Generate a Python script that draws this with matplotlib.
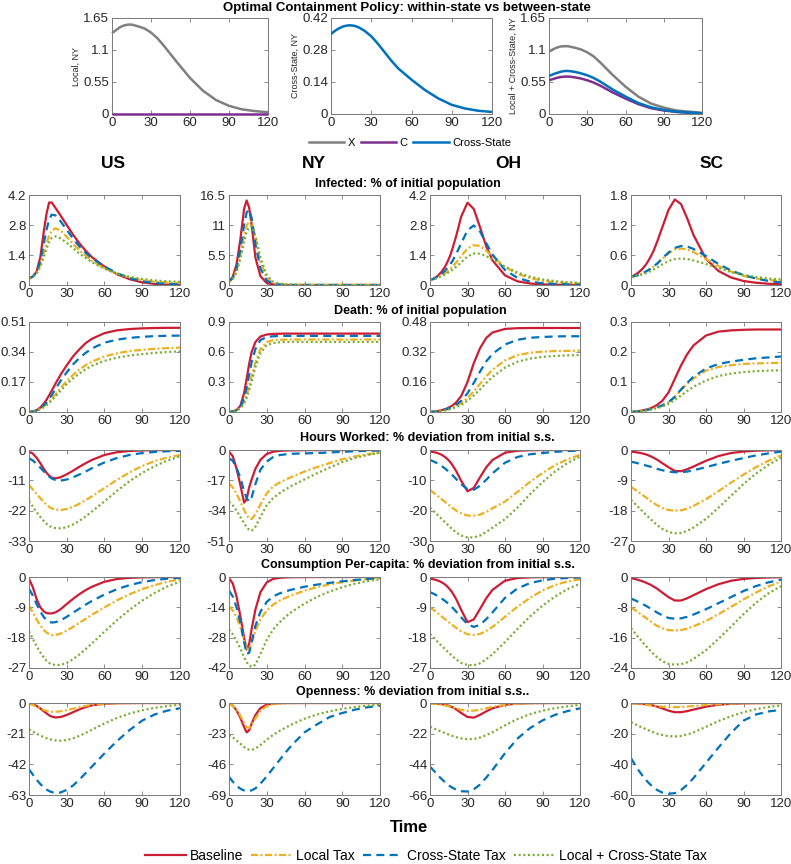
import matplotlib
matplotlib.use('Agg')
import matplotlib.pyplot as plt
from matplotlib.lines import Line2D

plt.rcParams['font.family'] = ['Liberation Sans', 'DejaVu Sans']

# ---------------- data ----------------
T = [0, 3, 6, 9, 12, 14, 16, 18, 21, 25, 30, 35, 40, 45, 50, 60, 70, 80, 90, 100, 110, 120]
XTICKS = [0, 30, 60, 90, 120]

STATES = ['US', 'NY', 'OH', 'SC']
SERIES = ['Baseline', 'Local Tax', 'Cross-State Tax', 'Local + Cross-State Tax']
ROW_TITLES = ['Infected: % of initial population',
              'Death: % of initial population',
              'Hours Worked: % deviation from initial s.s.',
              'Consumption Per-capita: % deviation from initial s.s.',
              'Openness: % deviation from initial s.s..']

# y-axis limits (one per state) for each row
INF_LIM = [4.2, 16.5, 4.2, 1.8]
DEATH_LIM = [0.51, 0.9, 0.48, 0.3]
HOURS_LIM = [-33, -51, -30, -27]
CONS_LIM = [-27, -42, -27, -24]
OPEN_LIM = [-63, -69, -66, -60]

# top row: optimal containment policy in NY
TOP_LABELS = ['Local, NY', 'Cross-State, NY', 'Local + Cross-State, NY']
TOP_LIM = [1.65, 0.42, 1.65]
TOP_LEGEND = ['X', 'C', 'Cross-State']
LOCAL_X = [1.39, 1.44, 1.49, 1.52, 1.535, 1.538, 1.532, 1.52, 1.50, 1.47, 1.40, 1.30, 1.17, 1.03, 0.89, 0.62, 0.40, 0.24, 0.14, 0.08, 0.05, 0.03]
LOCAL_C = [0, 0, 0, 0, 0, 0, 0, 0, 0, 0, 0, 0, 0, 0, 0, 0, 0, 0, 0, 0, 0, 0]
CROSS_CS = [0.350, 0.364, 0.375, 0.383, 0.387, 0.388, 0.387, 0.385, 0.378, 0.364, 0.340, 0.307, 0.270, 0.233, 0.200, 0.150, 0.105, 0.068, 0.040, 0.024, 0.014, 0.009]
BOTH_X = [1.07, 1.11, 1.14, 1.16, 1.165, 1.166, 1.16, 1.15, 1.135, 1.11, 1.06, 0.99, 0.89, 0.78, 0.67, 0.47, 0.30, 0.18, 0.11, 0.06, 0.04, 0.02]
BOTH_C = [0.58, 0.60, 0.62, 0.635, 0.642, 0.643, 0.642, 0.637, 0.627, 0.61, 0.58, 0.54, 0.49, 0.43, 0.37, 0.265, 0.17, 0.10, 0.06, 0.035, 0.02, 0.01]
BOTH_CS = [0.654, 0.68, 0.705, 0.725, 0.738, 0.74, 0.738, 0.732, 0.72, 0.70, 0.665, 0.62, 0.56, 0.49, 0.42, 0.30, 0.19, 0.115, 0.07, 0.04, 0.025, 0.013]

# each panel: [Baseline, Local Tax, Cross-State Tax, Local + Cross-State Tax]
INF_US = [[0.30, 0.40, 0.62, 1.3, 2.6, 3.35, 3.85, 3.85, 3.6, 3.25, 2.8, 2.35, 1.95, 1.6, 1.3, 0.86, 0.5, 0.27, 0.12, 0.05, 0.02, 0.01],
          [0.30, 0.38, 0.55, 0.95, 1.55, 1.95, 2.3, 2.52, 2.65, 2.55, 2.25, 1.92, 1.62, 1.36, 1.13, 0.78, 0.52, 0.34, 0.22, 0.15, 0.11, 0.10],
          [0.30, 0.39, 0.58, 1.1, 2.0, 2.6, 3.05, 3.28, 3.25, 2.98, 2.58, 2.17, 1.8, 1.5, 1.25, 0.86, 0.55, 0.32, 0.17, 0.09, 0.05, 0.03],
          [0.30, 0.37, 0.52, 0.85, 1.35, 1.7, 2.0, 2.2, 2.27, 2.18, 1.97, 1.72, 1.47, 1.26, 1.06, 0.76, 0.53, 0.38, 0.28, 0.21, 0.17, 0.15]]
INF_NY = [[0.6, 1.5, 3.8, 8.3, 14.0, 15.5, 14.2, 11.0, 5.0, 1.6, 0.35, 0.1, 0.03, 0.01, 0, 0, 0, 0, 0, 0, 0, 0],
          [0.6, 1.2, 2.6, 5.5, 9.0, 10.8, 11.7, 11.6, 8.8, 4.2, 1.3, 0.4, 0.15, 0.06, 0.03, 0.02, 0.01, 0.01, 0.01, 0.01, 0.01, 0.01],
          [0.6, 1.3, 3.0, 6.5, 11.0, 13.3, 13.8, 12.3, 7.5, 3.0, 0.8, 0.25, 0.08, 0.03, 0.01, 0, 0, 0, 0, 0, 0, 0],
          [0.6, 1.1, 2.3, 4.8, 8.0, 9.7, 10.6, 10.8, 9.0, 5.0, 1.8, 0.6, 0.22, 0.09, 0.05, 0.03, 0.02, 0.02, 0.02, 0.02, 0.02, 0.02]]
INF_OH = [[0.23, 0.3, 0.42, 0.6, 0.85, 1.08, 1.35, 1.7, 2.3, 3.2, 3.84, 3.55, 2.7, 1.8, 1.15, 0.45, 0.17, 0.07, 0.03, 0.015, 0.01, 0.005],
          [0.23, 0.28, 0.35, 0.44, 0.55, 0.64, 0.74, 0.85, 1.05, 1.35, 1.7, 1.86, 1.82, 1.6, 1.32, 0.85, 0.52, 0.32, 0.2, 0.13, 0.09, 0.06],
          [0.23, 0.29, 0.38, 0.5, 0.67, 0.8, 0.95, 1.12, 1.45, 1.95, 2.55, 2.78, 2.5, 1.95, 1.42, 0.7, 0.33, 0.16, 0.08, 0.05, 0.03, 0.02],
          [0.23, 0.27, 0.33, 0.4, 0.49, 0.56, 0.63, 0.71, 0.85, 1.06, 1.33, 1.47, 1.46, 1.35, 1.18, 0.85, 0.58, 0.39, 0.26, 0.18, 0.13, 0.1]]
INF_SC = [[0.167, 0.2, 0.25, 0.32, 0.41, 0.49, 0.58, 0.68, 0.87, 1.15, 1.5, 1.71, 1.62, 1.33, 1.0, 0.52, 0.28, 0.15, 0.08, 0.045, 0.025, 0.015],
          [0.167, 0.18, 0.2, 0.23, 0.27, 0.3, 0.33, 0.37, 0.43, 0.52, 0.63, 0.71, 0.73, 0.71, 0.66, 0.52, 0.38, 0.27, 0.18, 0.13, 0.1, 0.08],
          [0.167, 0.18, 0.2, 0.23, 0.27, 0.3, 0.33, 0.37, 0.43, 0.53, 0.65, 0.74, 0.78, 0.77, 0.72, 0.58, 0.42, 0.29, 0.2, 0.13, 0.08, 0.05],
          [0.167, 0.18, 0.19, 0.21, 0.24, 0.26, 0.28, 0.31, 0.35, 0.41, 0.48, 0.52, 0.53, 0.52, 0.49, 0.42, 0.34, 0.26, 0.2, 0.16, 0.13, 0.11]]

DEATH_US = [[0, 0.003, 0.01, 0.025, 0.05, 0.07, 0.095, 0.12, 0.16, 0.21, 0.265, 0.315, 0.355, 0.39, 0.415, 0.447, 0.463, 0.47, 0.474, 0.476, 0.477, 0.477],
            [0, 0.003, 0.008, 0.018, 0.033, 0.045, 0.06, 0.075, 0.1, 0.135, 0.175, 0.21, 0.24, 0.265, 0.285, 0.315, 0.333, 0.345, 0.353, 0.358, 0.362, 0.365],
            [0, 0.003, 0.009, 0.02, 0.04, 0.056, 0.075, 0.095, 0.13, 0.175, 0.225, 0.27, 0.305, 0.335, 0.36, 0.393, 0.41, 0.42, 0.426, 0.43, 0.432, 0.433],
            [0, 0.003, 0.007, 0.015, 0.028, 0.038, 0.05, 0.065, 0.088, 0.12, 0.158, 0.19, 0.218, 0.242, 0.262, 0.29, 0.308, 0.32, 0.328, 0.335, 0.34, 0.344]]
DEATH_NY = [[0, 0.005, 0.02, 0.06, 0.19, 0.33, 0.48, 0.6, 0.7, 0.755, 0.775, 0.781, 0.783, 0.784, 0.784, 0.784, 0.784, 0.784, 0.784, 0.784, 0.784, 0.784],
            [0, 0.004, 0.015, 0.04, 0.1, 0.17, 0.26, 0.36, 0.5, 0.63, 0.7, 0.718, 0.722, 0.724, 0.725, 0.725, 0.725, 0.725, 0.725, 0.725, 0.725, 0.725],
            [0, 0.005, 0.018, 0.05, 0.14, 0.24, 0.37, 0.5, 0.63, 0.72, 0.75, 0.757, 0.76, 0.761, 0.761, 0.761, 0.761, 0.761, 0.761, 0.761, 0.761, 0.761],
            [0, 0.004, 0.013, 0.035, 0.085, 0.14, 0.22, 0.31, 0.45, 0.59, 0.67, 0.69, 0.697, 0.7, 0.701, 0.701, 0.701, 0.701, 0.701, 0.701, 0.701, 0.701]]
DEATH_OH = [[0, 0.002, 0.005, 0.009, 0.015, 0.02, 0.027, 0.035, 0.052, 0.085, 0.16, 0.26, 0.34, 0.395, 0.424, 0.443, 0.447, 0.448, 0.448, 0.448, 0.448, 0.448],
            [0, 0.002, 0.004, 0.007, 0.011, 0.014, 0.018, 0.023, 0.032, 0.047, 0.075, 0.11, 0.15, 0.19, 0.225, 0.275, 0.303, 0.316, 0.322, 0.325, 0.326, 0.327],
            [0, 0.002, 0.004, 0.008, 0.013, 0.017, 0.022, 0.028, 0.04, 0.06, 0.1, 0.155, 0.215, 0.27, 0.31, 0.36, 0.385, 0.396, 0.4, 0.403, 0.404, 0.404],
            [0, 0.002, 0.003, 0.006, 0.009, 0.012, 0.015, 0.019, 0.026, 0.038, 0.06, 0.088, 0.12, 0.155, 0.187, 0.237, 0.268, 0.285, 0.294, 0.299, 0.302, 0.304]]
DEATH_SC = [[0, 0.001, 0.003, 0.005, 0.008, 0.01, 0.013, 0.017, 0.024, 0.037, 0.065, 0.11, 0.155, 0.193, 0.222, 0.255, 0.268, 0.272, 0.274, 0.275, 0.275, 0.275],
            [0, 0.001, 0.002, 0.004, 0.006, 0.008, 0.01, 0.012, 0.016, 0.022, 0.033, 0.05, 0.073, 0.094, 0.112, 0.138, 0.15, 0.156, 0.16, 0.162, 0.163, 0.164],
            [0, 0.001, 0.002, 0.004, 0.006, 0.008, 0.01, 0.012, 0.016, 0.022, 0.033, 0.05, 0.075, 0.097, 0.118, 0.145, 0.16, 0.168, 0.174, 0.179, 0.182, 0.185],
            [0, 0.001, 0.002, 0.003, 0.005, 0.006, 0.008, 0.01, 0.013, 0.018, 0.027, 0.04, 0.055, 0.07, 0.084, 0.105, 0.12, 0.128, 0.133, 0.136, 0.138, 0.139]]

HOURS_US = [[-0.6, -1.3, -2.8, -4.8, -7.0, -8.3, -9.3, -10.0, -10.3, -9.9, -8.8, -7.5, -6.1, -4.8, -3.6, -1.8, -0.8, -0.35, -0.15, -0.07, -0.03, -0.02],
            [-12.7, -14.3, -15.9, -17.5, -19.0, -19.9, -20.6, -21.2, -21.6, -21.8, -21.4, -20.6, -19.5, -18.2, -16.8, -13.8, -10.8, -8.1, -5.8, -4.0, -2.7, -1.8],
            [-3.0, -3.8, -5.0, -6.4, -7.9, -8.8, -9.6, -10.3, -10.9, -11.1, -10.7, -9.9, -8.9, -7.8, -6.6, -4.5, -2.9, -1.8, -1.1, -0.7, -0.45, -0.3],
            [-18.5, -20.5, -22.5, -24.3, -25.9, -26.8, -27.5, -28.0, -28.3, -28.4, -28.0, -27.0, -25.7, -24.1, -22.3, -18.6, -14.8, -11.3, -8.3, -5.8, -3.8, -2.3]]
HOURS_NY = [[-0.9, -3.5, -10.5, -19.5, -29.5, -27.5, -21.0, -16.5, -10.5, -5.5, -2.2, -1.0, -0.5, -0.3, -0.2, -0.1, -0.05, -0.03, -0.02, -0.01, -0.01, -0.01],
            [-18.7, -21.0, -24.5, -29.0, -33.5, -36.5, -38.3, -38.7, -36.0, -30.5, -24.3, -20.5, -18.3, -16.6, -15.0, -12.1, -9.6, -7.3, -5.2, -3.6, -2.4, -1.5],
            [-4.7, -6.0, -10.0, -15.5, -23.0, -27.0, -29.0, -26.5, -19.0, -11.0, -6.5, -4.0, -2.9, -2.4, -2.1, -1.9, -1.7, -1.4, -1.0, -0.7, -0.45, -0.3],
            [-29.0, -31.0, -34.0, -37.5, -41.0, -43.2, -44.8, -45.2, -43.0, -37.5, -31.0, -27.0, -24.3, -22.0, -20.0, -16.5, -13.0, -9.8, -6.8, -4.5, -2.8, -1.5]]
HOURS_OH = [[-0.5, -0.7, -1.0, -1.5, -2.3, -3.0, -3.9, -5.0, -7.0, -10.2, -13.6, -12.5, -9.0, -5.7, -3.3, -0.9, -0.25, -0.08, -0.03, -0.01, -0.01, -0.01],
            [-13.2, -14.1, -15.1, -16.1, -17.1, -17.8, -18.4, -19.1, -20.0, -20.9, -21.6, -21.7, -21.3, -20.4, -19.2, -17.0, -13.8, -10.5, -7.6, -5.0, -3.1, -1.6],
            [-3.3, -3.8, -4.4, -5.2, -6.1, -6.8, -7.5, -8.3, -9.6, -11.3, -12.9, -13.1, -11.8, -9.8, -7.7, -4.2, -2.3, -1.4, -1.0, -0.6, -0.35, -0.2],
            [-19.0, -20.2, -21.4, -22.6, -23.8, -24.6, -25.4, -26.2, -27.2, -28.2, -28.8, -28.8, -28.2, -27.0, -25.6, -22.8, -19.0, -14.6, -10.6, -7.1, -4.3, -2.2]]
HOURS_SC = [[-0.5, -0.6, -0.8, -1.0, -1.3, -1.6, -1.9, -2.3, -2.9, -3.9, -5.1, -6.2, -6.3, -5.7, -4.9, -3.2, -1.8, -0.9, -0.45, -0.2, -0.1, -0.05],
            [-10.9, -11.7, -12.5, -13.3, -14.1, -14.6, -15.2, -15.7, -16.4, -17.2, -17.8, -18.0, -17.9, -17.4, -16.6, -14.6, -12.2, -9.7, -7.3, -5.1, -3.2, -1.6],
            [-3.5, -3.7, -4.0, -4.3, -4.6, -4.8, -5.0, -5.3, -5.6, -6.0, -6.4, -6.6, -6.6, -6.4, -6.0, -5.1, -4.1, -3.2, -2.4, -1.6, -1.0, -0.5],
            [-14.8, -15.9, -17.0, -18.1, -19.2, -19.9, -20.6, -21.3, -22.3, -23.4, -24.3, -24.7, -24.6, -24.0, -23.0, -20.4, -17.1, -13.6, -10.1, -7.0, -4.4, -2.3]]

CONS_US = [[-0.5, -3.0, -6.5, -9.0, -10.3, -10.7, -10.8, -10.8, -10.5, -9.6, -8.0, -6.5, -5.1, -3.9, -2.9, -1.4, -0.6, -0.25, -0.1, -0.05, -0.03, -0.02],
           [-8.5, -10.5, -12.6, -14.4, -15.8, -16.5, -16.9, -17.2, -17.2, -16.8, -15.9, -14.8, -13.6, -12.4, -11.2, -9.0, -6.9, -5.1, -3.6, -2.4, -1.4, -0.7],
           [-3.5, -5.5, -8.0, -10.3, -12.0, -12.8, -13.3, -13.5, -13.4, -12.9, -11.8, -10.6, -9.4, -8.2, -7.1, -5.2, -3.6, -2.4, -1.5, -0.9, -0.5, -0.25],
           [-16.1, -18.3, -20.5, -22.4, -24.0, -24.9, -25.5, -25.9, -26.1, -26.1, -25.5, -24.4, -23.0, -21.4, -19.7, -16.2, -12.8, -9.7, -7.0, -4.7, -2.8, -1.4]]
CONS_NY = [[-0.5, -3.0, -9.0, -18.0, -28.0, -33.5, -31.0, -24.0, -15.0, -7.0, -2.5, -0.9, -0.4, -0.2, -0.1, -0.05, -0.02, -0.02, -0.01, -0.01, -0.01, -0.01],
           [-13.5, -15.5, -18.5, -23.0, -29.0, -33.0, -33.5, -30.5, -25.0, -19.5, -15.5, -12.8, -11.0, -9.6, -8.4, -6.3, -4.7, -3.4, -2.4, -1.6, -1.0, -0.5],
           [-6.3, -9.0, -14.0, -21.0, -30.0, -35.5, -35.0, -30.0, -22.5, -16.0, -11.5, -9.0, -7.6, -6.6, -5.8, -4.5, -3.5, -2.7, -2.0, -1.4, -0.9, -0.5],
           [-24.2, -26.5, -29.5, -33.0, -37.0, -39.3, -40.8, -41.5, -40.5, -35.5, -29.0, -24.3, -21.0, -18.3, -16.0, -12.3, -9.2, -6.7, -4.7, -3.1, -1.9, -1.0]]
CONS_OH = [[-0.5, -0.7, -1.0, -1.5, -2.2, -2.9, -3.7, -4.7, -6.6, -9.8, -13.4, -12.6, -9.5, -6.3, -3.8, -1.1, -0.3, -0.1, -0.04, -0.02, -0.01, -0.01],
           [-9.0, -9.8, -10.7, -11.6, -12.5, -13.1, -13.7, -14.3, -15.1, -16.1, -17.0, -17.2, -16.9, -16.0, -14.8, -11.8, -8.8, -6.2, -4.0, -2.4, -1.3, -0.7],
           [-4.5, -5.0, -5.6, -6.3, -7.1, -7.7, -8.4, -9.1, -10.3, -12.0, -14.0, -14.8, -14.2, -12.5, -10.5, -6.2, -3.4, -1.8, -1.0, -0.5, -0.3, -0.15],
           [-16.9, -18.0, -19.2, -20.3, -21.4, -22.1, -22.8, -23.5, -24.5, -25.5, -26.1, -26.2, -25.6, -24.4, -22.9, -19.3, -15.4, -11.7, -8.5, -5.8, -3.6, -2.0]]
CONS_SC = [[-0.3, -0.5, -0.8, -1.1, -1.5, -1.8, -2.1, -2.5, -3.1, -4.1, -5.3, -6.2, -6.2, -5.6, -4.8, -3.2, -1.9, -1.0, -0.5, -0.25, -0.12, -0.06],
           [-8.0, -8.7, -9.4, -10.1, -10.8, -11.3, -11.8, -12.3, -12.9, -13.5, -14.0, -14.1, -14.0, -13.6, -13.0, -11.6, -9.8, -7.9, -5.9, -4.1, -2.5, -1.2],
           [-5.7, -6.1, -6.6, -7.1, -7.6, -8.0, -8.4, -8.8, -9.4, -10.1, -10.8, -11.0, -10.9, -10.5, -9.9, -8.5, -6.9, -5.3, -3.7, -2.4, -1.4, -0.7],
           [-13.5, -14.7, -15.9, -17.1, -18.2, -18.9, -19.6, -20.3, -21.2, -22.2, -22.9, -23.1, -23.0, -22.5, -21.6, -19.3, -16.3, -13.1, -9.8, -6.8, -4.3, -2.4]]

OPEN_US = [[-0.2, -0.8, -2.0, -3.8, -5.8, -7.2, -8.4, -9.3, -9.9, -9.6, -8.2, -6.3, -4.4, -2.8, -1.6, -0.5, -0.15, -0.05, -0.02, -0.01, -0.01, -0.01],
           [-0.5, -1.3, -2.5, -3.8, -4.8, -5.4, -5.8, -6.0, -6.0, -5.7, -4.9, -3.9, -2.9, -2.0, -1.3, -0.5, -0.2, -0.08, -0.03, -0.01, -0.01, -0.01],
           [-45.4, -49.0, -52.5, -55.5, -58.0, -59.3, -60.3, -61.0, -61.5, -61.3, -59.5, -56.5, -52.5, -48.0, -43.5, -34.5, -26.0, -18.5, -12.0, -7.8, -5.2, -3.6],
           [-18.0, -19.6, -21.0, -22.3, -23.5, -24.1, -24.7, -25.1, -25.6, -25.8, -25.4, -24.2, -22.5, -20.5, -18.3, -14.0, -10.2, -7.2, -5.0, -3.3, -2.1, -1.2]]
OPEN_NY = [[-0.3, -2.0, -5.5, -11.0, -18.0, -22.0, -20.5, -15.5, -9.0, -3.8, -1.2, -0.4, -0.15, -0.05, -0.02, -0.01, -0.01, -0.01, -0.01, -0.01, -0.01, -0.01],
           [-0.5, -2.0, -5.0, -9.5, -15.0, -18.0, -18.8, -16.5, -11.5, -6.0, -2.3, -0.9, -0.4, -0.2, -0.1, -0.05, -0.02, -0.01, -0.01, -0.01, -0.01, -0.01],
           [-55.3, -59.0, -62.0, -64.3, -65.6, -66.0, -66.0, -65.5, -64.0, -60.5, -55.0, -49.0, -43.0, -37.0, -31.5, -22.0, -16.0, -10.5, -7.5, -5.0, -3.2, -2.0],
           [-24.0, -25.8, -28.0, -30.5, -33.0, -34.3, -35.0, -35.2, -34.2, -31.5, -27.5, -24.0, -21.0, -18.5, -16.0, -11.8, -8.6, -6.2, -4.4, -3.0, -2.0, -1.3]]
OPEN_OH = [[-0.1, -0.2, -0.4, -0.7, -1.2, -1.7, -2.3, -3.1, -4.6, -7.2, -10.0, -10.5, -8.5, -6.0, -3.8, -1.3, -0.4, -0.1, -0.05, -0.02, -0.01, -0.01],
           [-0.3, -0.5, -0.8, -1.2, -1.7, -2.1, -2.6, -3.1, -3.9, -4.9, -5.6, -5.5, -4.8, -3.8, -2.8, -1.3, -0.5, -0.2, -0.08, -0.03, -0.01, -0.01],
           [-45.7, -48.5, -51.5, -54.3, -56.8, -58.3, -59.7, -60.8, -62.2, -63.3, -63.5, -62.0, -58.5, -53.5, -48.0, -36.0, -25.5, -18.0, -12.5, -8.5, -5.8, -3.8],
           [-17.0, -18.2, -19.4, -20.5, -21.6, -22.3, -23.0, -23.6, -24.5, -25.4, -26.0, -25.8, -24.8, -23.0, -21.0, -16.0, -11.5, -8.0, -5.5, -3.7, -2.4, -1.5]]
OPEN_SC = [[-0.1, -0.2, -0.3, -0.5, -0.8, -1.0, -1.3, -1.7, -2.4, -3.5, -5.0, -6.0, -6.0, -5.3, -4.3, -2.4, -1.1, -0.5, -0.2, -0.1, -0.05, -0.02],
           [-0.3, -0.5, -0.7, -0.9, -1.2, -1.4, -1.6, -1.8, -2.1, -2.4, -2.6, -2.7, -2.6, -2.3, -2.0, -1.3, -0.8, -0.4, -0.2, -0.1, -0.05, -0.02],
           [-36.0, -40.0, -43.8, -47.2, -50.2, -52.0, -53.6, -55.0, -56.8, -58.4, -59.2, -58.8, -56.8, -53.3, -49.0, -39.0, -29.0, -19.5, -11.5, -7.5, -5.5, -4.5],
           [-12.5, -13.7, -14.9, -16.0, -17.1, -17.8, -18.5, -19.1, -20.0, -20.9, -21.6, -21.8, -21.5, -20.5, -19.2, -15.5, -11.8, -8.6, -6.0, -4.0, -2.6, -1.6]]

# ---------------- layout / style ----------------
W, H = 791, 864
fig = plt.figure(figsize=(W / 100, H / 100), dpi=100)


def rect(l, t, r, b):
    return [l / W, 1 - b / H, (r - l) / W, (b - t) / H]


SPINE = '#7a7a7a'
TXT = '#262626'
COLORS = ['#CD1D34', '#EDB120', '#0072BD', '#77AC30']
STYLES = ['-', (0, (3.2, 1.1, 0.9, 1.1)), (0, (3.6, 2.4)), (0, (0.9, 1.2))]
TOP_COLORS = ['#808080', '#7E2F8E', '#0072BD']
LW = 1.6


def fmt(v):
    return '%g' % round(v, 4)


def style_axes(ax, lim, fs=9.5):
    lo, hi = (0, lim) if lim > 0 else (lim, 0)
    ax.set_xlim(0, 120)
    ax.set_ylim(lo, hi)
    ticks = [lo + (hi - lo) * k / 3 for k in range(4)]
    ax.set_yticks(ticks)
    ax.set_yticklabels([fmt(v) for v in ticks])
    ax.set_xticks(XTICKS)
    ax.set_xticklabels([str(v) for v in XTICKS])
    ax.tick_params(direction='in', top=True, right=True, length=3, width=0.6,
                   color=SPINE, labelcolor=TXT, labelsize=fs, pad=2)
    for s in ax.spines.values():
        s.set_color(SPINE)
        s.set_linewidth(0.7)


# top row
top_rects = [(112, 18, 268, 114), (331, 18, 492, 114), (549, 18, 702, 114)]
top_data = [[LOCAL_X, LOCAL_C], [CROSS_CS], [BOTH_X, BOTH_C, BOTH_CS]]
top_color_idx = [[0, 1], [2], [0, 1, 2]]
for i, r in enumerate(top_rects):
    ax = fig.add_axes(rect(*r))
    for d, ci in zip(top_data[i], top_color_idx[i]):
        ax.plot(T, d, color=TOP_COLORS[ci], lw=1.8, solid_capstyle='butt',
                clip_on=(i != 0), zorder=3)
    style_axes(ax, TOP_LIM[i], fs=9.5)
    ax.set_ylabel(TOP_LABELS[i], fontsize=6.5, color=TXT, labelpad=2)

fig.text(407 / W, 1 - 8 / H, 'Optimal Containment Policy: within-state vs between-state',
         ha='center', va='center', fontsize=9.5, fontweight='bold', color='black')

top_handles = [Line2D([], [], color=c, lw=1.8) for c in TOP_COLORS]
fig.legend(top_handles, TOP_LEGEND, loc='center', bbox_to_anchor=(410 / W, 1 - 143 / H),
           ncol=3, frameon=False, fontsize=8, handlelength=3.2, handletextpad=0.3,
           columnspacing=0.5, borderpad=0, borderaxespad=0)

# main grid
COLS = [(29, 180), (229, 380), (430, 580), (631, 781)]
ROWS = [(195, 285), (322, 412), (450, 541), (577, 668), (703, 795)]
PANELS = [[INF_US, INF_NY, INF_OH, INF_SC],
          [DEATH_US, DEATH_NY, DEATH_OH, DEATH_SC],
          [HOURS_US, HOURS_NY, HOURS_OH, HOURS_SC],
          [CONS_US, CONS_NY, CONS_OH, CONS_SC],
          [OPEN_US, OPEN_NY, OPEN_OH, OPEN_SC]]
LIMS = [INF_LIM, DEATH_LIM, HOURS_LIM, CONS_LIM, OPEN_LIM]
ROW_TITLE_POS = [(408, 184), (420, 311), (427, 438), (418, 565), (413, 692)]
COL_TITLE_X = [113, 314, 508, 712]

for ri, (top, bot) in enumerate(ROWS):
    for ci, (l, r) in enumerate(COLS):
        ax = fig.add_axes(rect(l, top, r, bot))
        for si, ser in enumerate(PANELS[ri][ci]):
            ax.plot(T, ser, color=COLORS[si], ls=STYLES[si], lw=LW)
        style_axes(ax, LIMS[ri][ci])
    x, y = ROW_TITLE_POS[ri]
    fig.text(x / W, 1 - y / H, ROW_TITLES[ri], ha='center', va='center',
             fontsize=9, fontweight='bold', color='black')

for ci, st in enumerate(STATES):
    fig.text(COL_TITLE_X[ci] / W, 1 - 163 / H, st, ha='center', va='center',
             fontsize=12.5, fontweight='bold', color='black')

fig.text(409 / W, 1 - 828 / H, 'Time', ha='center', va='center', fontsize=12,
         fontweight='bold', color='black')

handles = [Line2D([], [], color=COLORS[i], ls=STYLES[i], lw=LW) for i in range(4)]
fig.legend(handles, SERIES, loc='center', bbox_to_anchor=(426 / W, 1 - 856 / H),
           ncol=4, frameon=False, fontsize=10, handlelength=2.9, handletextpad=0.3,
           columnspacing=0.6, borderpad=0, borderaxespad=0)

fig.savefig('out.png', dpi=100)
